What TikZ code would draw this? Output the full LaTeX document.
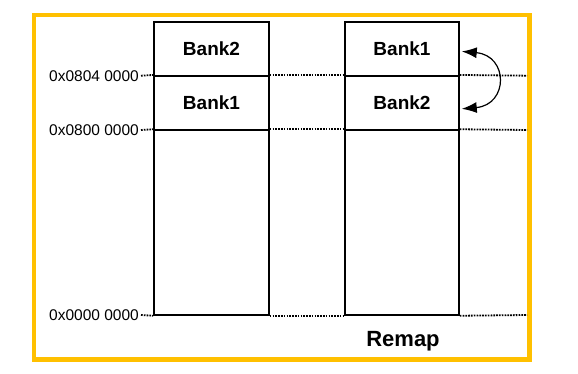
\documentclass[tikz,border=0pt]{standalone}
\usepackage{fontspec}
\setmainfont{Liberation Sans}
\usetikzlibrary{arrows.meta}
\definecolor{frameorange}{HTML}{FFC000}
\tikzset{
  px/.style={x=1pt,y=-1pt},
  cell/.style={draw=black, line width=1.5pt, inner sep=0pt,
    font=\fontsize{19}{22}\selectfont\bfseries},
  addr/.style={anchor=east, inner sep=0pt, font=\fontsize{15.5}{18}\selectfont},
  guide/.style={line width=1.8pt, dash pattern=on 1.7pt off 1.1pt},
  swap/.style={line width=1.2pt, {Latex[length=15pt,width=11pt]}-{Latex[length=15pt,width=11pt]}}
}
\begin{document}
\begin{tikzpicture}[px]
\useasboundingbox (0,0) rectangle (578,374);
\draw[frameorange, line width=4.5pt] (34,15) rectangle (529.5,359.5);
% address labels
\node[addr] (a1) at (139,75.7) {0x0804 0000};
\node[addr] (a2) at (139,130) {0x0800 0000};
\node[addr] (a3) at (139,315) {0x0000 0000};
% left column
\node[cell, minimum width=115pt, minimum height=54pt] (L2) at (211.5,48.9) {Bank2};
\node[cell, minimum width=115pt, minimum height=54.3pt] (L1) at (211.5,102.85) {Bank1};
\node[cell, minimum width=115pt, minimum height=185pt] (L0) at (211.5,222.5) {};
% right column
\node[cell, minimum width=114pt, minimum height=54pt] (R1) at (402,48.9) {Bank1};
\node[cell, minimum width=114pt, minimum height=54.3pt] (R2) at (402,102.85) {Bank2};
\node[cell, minimum width=114pt, minimum height=185pt] (R0) at (402,222.5) {};
% guides
\coordinate (e1) at (527,75.7);
\coordinate (e2) at (527,130);
\coordinate (e3) at (527,315);
\draw[guide] ([xshift=2pt]a1.east) -- (L1.north west);
\draw[guide] (L1.north east) -- (R2.north west);
\draw[guide] (R2.north east) -- (e1);
\draw[guide] ([xshift=2pt]a2.east) -- (L0.north west);
\draw[guide] (L0.north east) -- (R0.north west);
\draw[guide] (R0.north east) -- (e2);
\draw[guide] ([xshift=2pt]a3.east) -- (L0.south west);
\draw[guide] (L0.south east) -- (R0.south west);
\draw[guide] (R0.south east) -- (e3);
% swap arrow
\coordinate (t1) at ([xshift=2pt,yshift=-2.5pt]R1.east);
\coordinate (t2) at ([xshift=2pt,yshift=-6pt]R2.east);
\draw[swap] (t1) to[out=-5, in=5, looseness=2.1] (t2);
% caption
\node[anchor=base, inner sep=0pt, font=\fontsize{22}{26}\selectfont\bfseries] (cap) at (403,346.5) {Remap};
\end{tikzpicture}
\end{document}
